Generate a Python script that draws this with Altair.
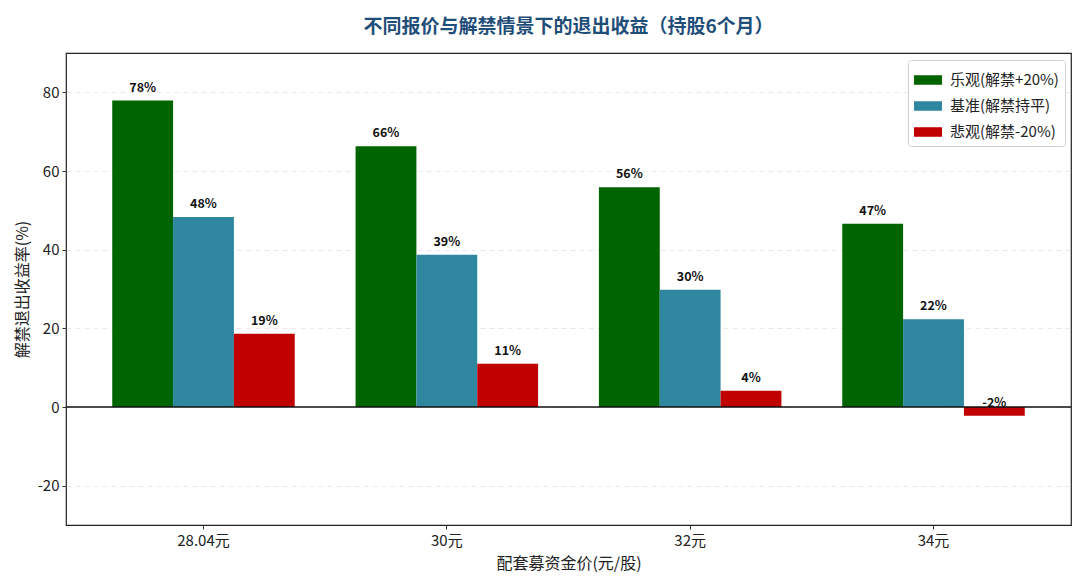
import altair as alt
import pandas as pd

categories = ["28.04元", "30元", "32元", "34元"]
scenarios = ["乐观(解禁+20%)", "基准(解禁持平)", "悲观(解禁-20%)"]
optimistic = [77.9, 66.3, 55.9, 46.6]
baseline = [48.3, 38.7, 29.8, 22.3]
pessimistic = [18.6, 11.0, 4.1, -2.2]
colors = ["#006400", "#2E879E", "#C00000"]

rows = []
for s, vals in zip(scenarios, [optimistic, baseline, pessimistic]):
    for c, v in zip(categories, vals):
        rows.append({"price": c, "scenario": s, "value": v, "label": f"{round(v):d}%"})
df = pd.DataFrame(rows)

FONT = "Noto Sans CJK SC"

x_enc = alt.X("price:N", sort=categories, title="配套募资金价(元/股)",
              scale=alt.Scale(paddingInner=0.25, paddingOuter=0.19),
              axis=alt.Axis(labelAngle=0, labelFontSize=15, titleFontSize=16,
                            labelColor="#222", titleColor="#222", domain=False,
                            ticks=True, tickSize=4, tickColor="#333",
                            labelPadding=4, titlePadding=7, grid=False,
                            labelFont=FONT, titleFont=FONT, titleFontWeight="normal"))
y_scale = alt.Scale(domain=[-30, 90], nice=False, zero=False)

bars = alt.Chart(df).mark_bar(width={"band": 1}).encode(
    x=x_enc,
    xOffset=alt.XOffset("scenario:N", sort=scenarios, scale=alt.Scale(paddingInner=0, paddingOuter=0)),
    y=alt.Y("value:Q", scale=y_scale, title="解禁退出收益率(%)",
            axis=alt.Axis(values=[-20, 0, 20, 40, 60, 80], labelExpr="'' + datum.value",
                          labelFontSize=15, titleFontSize=16,
                          labelColor="#222", titleColor="#222", domain=False,
                          tickSize=4, tickColor="#333", labelPadding=3, titlePadding=7,
                          grid=True, gridDash=[5, 4], gridColor="#e3e3e3", gridWidth=0.8,
                          labelFont=FONT, titleFont=FONT, titleFontWeight="normal")),
    color=alt.Color("scenario:N", sort=scenarios,
                    scale=alt.Scale(domain=scenarios, range=colors),
                    legend=alt.Legend(title=None, orient="none", legendX=842, legendY=7,
                                      symbolType="M-1,-0.34H1V0.34H-1Z", symbolSize=784,
                                      symbolStrokeWidth=0, labelFontSize=15, labelFont=FONT,
                                      labelColor="#222", rowPadding=4, padding=6,
                                      strokeColor="#d0d0d0", fillColor="white",
                                      cornerRadius=3, labelOffset=8)),
)

labels = alt.Chart(df).mark_text(dy=-13, baseline="middle", fontSize=12.5,
                                 fontWeight="bold", font=FONT, color="#111").encode(
    x=alt.X("price:N", sort=categories),
    xOffset=alt.XOffset("scenario:N", sort=scenarios),
    y=alt.Y("value:Q", scale=y_scale),
    text="label:N",
)

zero = alt.Chart(pd.DataFrame({"z": [0]})).mark_rule(color="#111", strokeWidth=1.5).encode(
    y=alt.Y("z:Q", scale=y_scale)
)

chart = alt.layer(bars, zero, labels).properties(
    width=1005, height=472,
    title=alt.TitleParams("不同报价与解禁情景下的退出收益（持股6个月）", fontSize=19,
                          fontWeight="bold", color="#1F4E79", font=FONT, offset=16,
                          anchor="middle"),
    autosize=alt.AutoSizeParams(type="none"),
    padding={"left": 58, "top": 45, "right": 1, "bottom": 50},
).configure(background="white").configure_view(stroke="#222", strokeWidth=1.2)

chart.save("out.html", embed_options={"renderer": "svg", "actions": False})
